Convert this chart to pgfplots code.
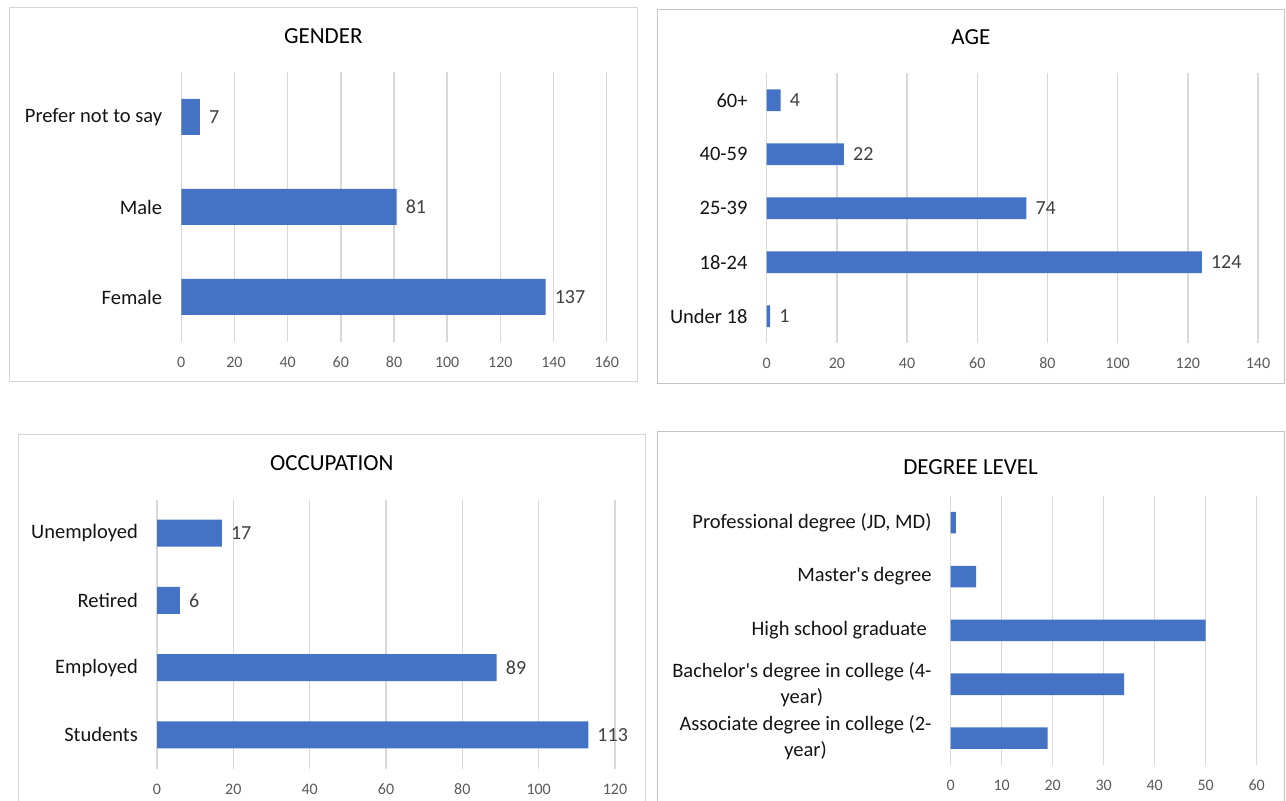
\documentclass[border=0pt]{standalone}
\usepackage{pgfplots}
\pgfplotsset{compat=1.18}
\usepackage{fontspec}
\setmainfont{Carlito}

\definecolor{barblue}{RGB}{68,114,196}
\definecolor{gridgray}{RGB}{217,217,217}
\definecolor{ticktext}{RGB}{89,89,89}
\definecolor{valtext}{RGB}{64,64,64}
\definecolor{cattext}{RGB}{20,20,20}
\definecolor{frameA}{RGB}{214,214,214}
\definecolor{frameB}{RGB}{196,196,196}

\pgfplotsset{
  panel/.style={
    scale only axis,
    xbar,
    bar width=0.4,
    xmin=0,
    axis line style={draw=none},
    major tick length=0pt,
    xmajorgrids,
    grid style={line width=1.5pt, color=gridgray},
    /pgf/number format/assume math mode=true,
    xticklabel style={font=\fontsize{16}{18}\selectfont, color=ticktext,
      anchor=base, inner sep=0pt, yshift=-25.5pt},
    yticklabel style={font=\fontsize{20.5}{26}\selectfont, color=cattext,
      anchor=east, inner sep=0pt, xshift=-19pt, align=center},
  },
  barstyle/.style={fill=barblue, draw=none},
  values/.style={
    nodes near coords,
    every node near coord/.append style={font=\fontsize{20}{24}\selectfont,
      color=valtext, anchor=west, inner sep=0pt, xshift=9pt},
  },
}

\begin{document}
\begin{tikzpicture}
\useasboundingbox (0pt,0pt) rectangle (1286pt,801pt);

% panel frames
\draw[frameA, line width=1pt] (9.3pt,419.3pt) rectangle (637.3pt,793.7pt);
\draw[frameB, line width=1pt] (657.7pt,417.5pt) rectangle (1284pt,791.7pt);
\draw[frameA, line width=1pt] (18.3pt,0pt) -- (18.3pt,366.3pt) -- (645.3pt,366.3pt) -- (645.3pt,0pt);
\draw[frameB, line width=1pt] (657.3pt,0pt) -- (657.3pt,369.7pt) -- (1284pt,369.7pt) -- (1284pt,0pt);

% titles
\node[anchor=base, font=\fontsize{23}{27}\selectfont] at (323.3pt,757.6pt) {GENDER};
\node[anchor=base, font=\fontsize{23}{27}\selectfont] at (970.8pt,756.6pt) {AGE};
\node[anchor=base, font=\fontsize{23}{27}\selectfont] at (331.8pt,330.6pt) {OCCUPATION};
\node[anchor=base, font=\fontsize{23}{27}\selectfont] at (970.6pt,326.6pt) {DEGREE LEVEL};

% gender
\begin{axis}[panel, values,
  at={(181.3pt,459pt)}, anchor=south west,
  width=425.4pt, height=270pt,
  xmax=160, xtick={0,20,...,160},
  ymin=-0.5, ymax=2.5, ytick={0,1,2},
  yticklabels={Female, Male, Prefer not to say}]
\addplot[barstyle] coordinates {(137,0) (81,1) (7,2)};
\end{axis}

% age
\begin{axis}[panel, values,
  at={(766.7pt,457.7pt)}, anchor=south west,
  width=491.3pt, height=270pt,
  xmax=140, xtick={0,20,...,140},
  ymin=-0.5, ymax=4.5, ytick={0,1,2,3,4},
  yticklabels={Under 18, 18-24, 25-39, 40-59, 60+}]
\addplot[barstyle] coordinates {(1,0) (124,1) (74,2) (22,3) (4,4)};
\end{axis}

% occupation
\begin{axis}[panel, values,
  at={(157pt,32.5pt)}, anchor=south west,
  width=458pt, height=269pt,
  xmax=120, xtick={0,20,...,120},
  ymin=-0.5, ymax=3.5, ytick={0,1,2,3},
  yticklabels={Students, Employed, Retired, Unemployed}]
\addplot[barstyle] coordinates {(113,0) (89,1) (6,2) (17,3)};
\end{axis}

% degree level
\begin{axis}[panel,
  at={(950.7pt,36pt)}, anchor=south west,
  width=306pt, height=269.2pt,
  xmax=60, xtick={0,10,...,60},
  ymin=-0.5, ymax=4.5, ytick={0,1,2,3,4},
  yticklabels={{Associate degree in college (2-\\year)},
               {Bachelor\textquotesingle s degree in college (4-\\year)},
               {High school graduate\ },
               {Master\textquotesingle s degree},
               {Professional degree (JD, MD)}}]
\addplot[barstyle] coordinates {(19,0) (34,1) (50,2) (5,3) (1,4)};
\end{axis}
\end{tikzpicture}
\end{document}
